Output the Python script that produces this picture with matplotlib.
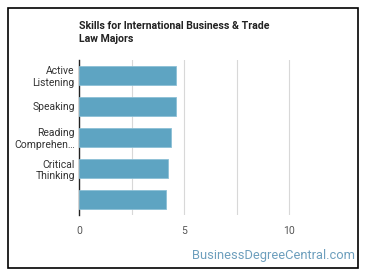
import matplotlib
matplotlib.use("Agg")
import matplotlib.pyplot as plt
from matplotlib.patches import Rectangle

plt.rcParams['font.family'] = ['Roboto', 'DejaVu Sans']

categories = ["Active\nListening", "Speaking", "Reading\nComprehen…", "Critical\nThinking", ""]
values = [4.62, 4.62, 4.38, 4.25, 4.12]
xticks = [0, 5, 10]

W, H = 370, 278
fig = plt.figure(figsize=(W/100, H/100), dpi=100)
fig.patch.set_facecolor('white')

# border
fig.patches.append(Rectangle((8/W, 1-268/H), 350/W, 260/H, transform=fig.transFigure,
                             fill=False, edgecolor='black', linewidth=1.2))

ax = fig.add_axes([79/W, 1-215/H, 273/W, 155/H])
y = list(range(len(categories)))
ax.barh(y, values, height=0.63, color='#5ea4c2', edgecolor='#8cc0d6', linewidth=0.6, zorder=3)
ax.set_ylim(len(categories)-0.5, -0.5)
ax.set_xlim(0, 13)
ax.set_yticks(y)
ax.set_yticklabels(categories, fontsize=7.5, color='#333333', linespacing=1.2)
ax.set_xticks(xticks)
ax.set_xticklabels([str(t) for t in xticks], fontsize=7.5, color='#555555')
ax.set_xticks([2.5, 7.5], minor=True)
ax.grid(axis='x', which='both', color='#d8d8d8', linewidth=0.8, zorder=0)
ax.tick_params(length=0, which='both')
ax.tick_params(axis='x', pad=8)
ax.tick_params(axis='y', pad=3)
for s in ['top', 'right', 'bottom']:
    ax.spines[s].set_visible(False)
ax.spines['left'].set_color('#222222')
ax.spines['left'].set_linewidth(1.0)

fig.text(79/W, 1-21/H, "Skills for International Business & Trade\nLaw Majors",
         fontsize=7.6, fontweight='bold', color='#222222', va='top', ha='left', linespacing=1.35)
fig.text(355/W, 1-255/H, "BusinessDegreeCentral.com", fontsize=9.3, color='#6d9fbd',
         ha='right', va='center')

fig.savefig('out.png', dpi=100)
